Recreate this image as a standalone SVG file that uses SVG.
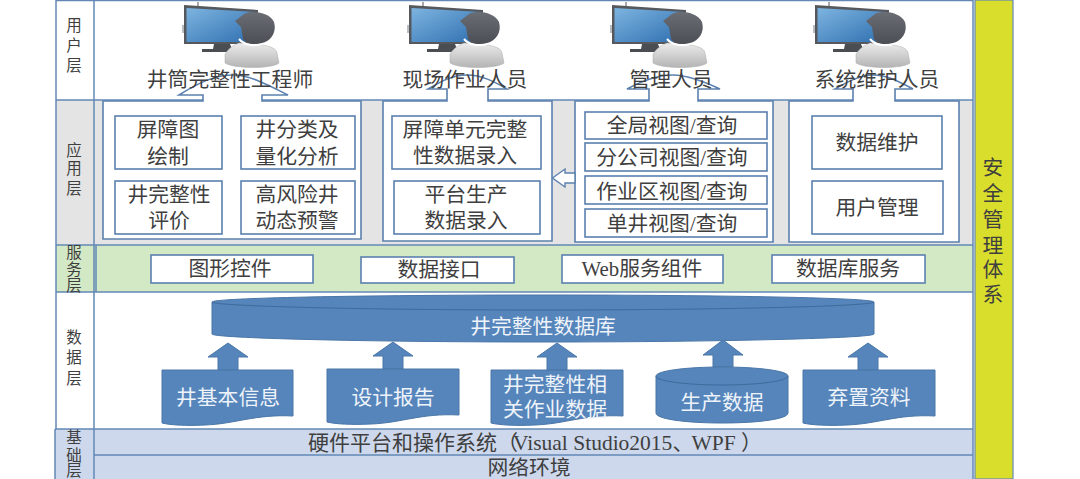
<svg xmlns="http://www.w3.org/2000/svg" width="1080" height="479" viewBox="0 0 1080 479">
<style>
text{font-family:"Liberation Serif","Noto Sans CJK SC",serif;fill:#3f3f3f;text-anchor:middle;font-size:20.8px}
.w{fill:#eef3fa}
.s{font-size:15.5px}
.box{fill:#fff;stroke:#5b80ae;stroke-width:1.6}
.band{stroke:#6388b5;stroke-width:1.5}
.blue{fill:#5585bb;stroke:#4a76a8;stroke-width:1}
.line{fill:none;stroke:#3f6a9c;stroke-width:1}
.call{fill:#fff;stroke:#5b80ae;stroke-width:1.6}
</style>
<defs>
<linearGradient id="scr" x1="0" y1="0" x2="1" y2="1"><stop offset="0" stop-color="#7db4e0"/><stop offset="1" stop-color="#2f6fb0"/></linearGradient>
<linearGradient id="head" x1="0" y1="0" x2="0" y2="1"><stop offset="0" stop-color="#6a6d73"/><stop offset="1" stop-color="#4b4e54"/></linearGradient>
<linearGradient id="body" x1="0" y1="0" x2="0" y2="1"><stop offset="0" stop-color="#ececec"/><stop offset="1" stop-color="#b4b4b4"/></linearGradient>
<symbol id="user" width="110" height="70" viewBox="0 0 110 70" overflow="visible">
<path d="M14 1V6" stroke="#555" stroke-width="1"/>
<path d="M-2 24h2v8h-2Z" fill="#b9bcc0"/>
<path d="M0 4L74 9V43L0 43Z" fill="#55585d"/>
<path d="M2.500 7L72 11V41L2.500 41Z" fill="url(#scr)"/>
<path d="M30 43H46L48 48H58V51H18V48H29Z" fill="#4a4d52"/>
<path d="M41 53C46 46 50 44 55 42L74 43C83 45 92 46 93 52L95 62C88 68 50 68 41 62Z" fill="url(#body)" stroke="#aaa" stroke-width=".5"/>
<path d="M55 38C60 44 70 46 80 42" fill="none" stroke="#fff" stroke-width="2"/>
<path d="M51 20L60 13C68 9 85 11 90 21C93 31 87 40 78 42C70 44 62 43 59 38L57 26Z" fill="url(#head)"/>
</symbol>
</defs>

<g id="layers">
<rect x="94" y="0" width="879" height="100" fill="#fff"/>
<rect x="56" y="100" width="917" height="145" fill="#e4e4e4"/>
<rect x="56" y="245" width="917" height="47" fill="#d3e8c5"/>
<rect x="56" y="292" width="917" height="137" fill="#fff"/>
<rect x="55" y="429" width="918" height="50" fill="#cdd8ec"/>
<rect x="975" y="0" width="38" height="479" fill="#d9de2c" stroke="#6388b5" stroke-width="1.2"/>
<path class="band" fill="none" d="M56 0.500H973M56 100H973M56 245H973M56 292H973M55 429H973M94 455H973M56 0V429M55 429V479M94 0V479M96 245V292M973 0V479"/>
<text class="s" x="74" y="31">用</text><text class="s" x="74" y="51">户</text><text class="s" x="74" y="71">层</text>
<text class="s" x="74" y="156">应</text><text class="s" x="74" y="174">用</text><text class="s" x="74" y="194">层</text>
<text class="s" x="74" y="258">服</text><text class="s" x="74" y="275">务</text><text class="s" x="74" y="291">层</text>
<text class="s" x="74" y="343">数</text><text class="s" x="74" y="363">据</text><text class="s" x="74" y="384">层</text>
<text class="s" x="74" y="443">基</text><text class="s" x="74" y="461">础</text><text class="s" x="74" y="476">层</text>
<text x="308" y="450" style="text-anchor:start;font-size:21px">硬件平台和操作系统（<tspan dx="-5" font-size="21.500">Visual Studio2015</tspan>、<tspan dx="-2" font-size="21.500">WPF </tspan>）</text>
<text x="529" y="475">网络环境</text>
</g>

<g id="security">
<text x="993" y="175">安</text><text x="993" y="201">全</text><text x="993" y="227">管</text><text x="993" y="253">理</text><text x="993" y="277">体</text><text x="993" y="302">系</text>
</g>

<g id="user-engineer">
<use href="#user" x="184" y="1"/>
<path class="call" d="M103 101H203V95H179C200 82 215 75 233 75C250 75 268 85 288 95H262V101H361V239H103Z"/>
<path d="M204 92H261V104H204Z" fill="#fff"/>
<text x="230" y="87">井筒完整性工程师</text>
<rect class="box" x="115" y="116" width="107" height="53"/><text x="168" y="137">屏障图</text><text x="168" y="164">绘制</text>
<rect class="box" x="241" y="116" width="114" height="53"/><text x="297" y="137">井分类及</text><text x="297" y="164">量化分析</text>
<rect class="box" x="115" y="181" width="107" height="53"/><text x="169" y="202">井完整性</text><text x="169" y="228">评价</text>
<rect class="box" x="241" y="181" width="114" height="53"/><text x="297" y="202">高风险井</text><text x="297" y="228">动态预警</text>
</g>

<g id="user-field">
<use href="#user" x="409" y="1"/>
<path class="call" d="M383 101H447V89H428C440 82 452 75 467 75C482 75 495 82 507 89H488V101H552V241H383Z"/>
<path d="M448 88H487V104H448Z" fill="#fff"/>
<text x="465" y="87">现场作业人员</text>
<rect class="box" x="392" y="116" width="149" height="53"/><text x="465" y="137">屏障单元完整</text><text x="465" y="163">性数据录入</text>
<rect class="box" x="394" y="181" width="146" height="53"/><text x="466" y="202">平台生产</text><text x="466" y="228">数据录入</text>
</g>

<g id="user-manager">
<use href="#user" x="612" y="1"/>
<path class="call" d="M575 101H649V89H627C640 82 658 75 673 75C688 75 705 82 720 89H698V101H773V242H575Z"/>
<path d="M650 88H697V104H650Z" fill="#fff"/>
<text x="671" y="87">管理人员</text>
<rect class="box" x="585" y="112" width="182" height="27"/><text x="672" y="133">全局视图/查询</text>
<rect class="box" x="585" y="143" width="182" height="28"/><text x="672" y="165">分公司视图/查询</text>
<rect class="box" x="585" y="176" width="182" height="28"/><text x="672" y="199">作业区视图/查询</text>
<rect class="box" x="585" y="209" width="182" height="28"/><text x="672" y="231">单井视图/查询</text>
</g>

<g id="user-maintainer">
<use href="#user" x="815" y="1"/>
<path class="call" d="M789 101H853V89H835C847 82 860 75 873 75C888 75 900 82 913 89H895V101H959V242H789Z"/>
<path d="M854 88H894V104H854Z" fill="#fff"/>
<text x="877" y="87">系统维护人员</text>
<rect class="box" x="812" y="116" width="130" height="53"/><text x="877" y="150">数据维护</text>
<rect class="box" x="812" y="181" width="131" height="53"/><text x="877" y="215">用户管理</text>
</g>

<g id="services">
<rect class="box" x="151" y="255" width="162" height="28"/><text x="230" y="276">图形控件</text>
<rect class="box" x="361" y="257" width="153" height="26"/><text x="439" y="277">数据接口</text>
<rect class="box" x="562" y="255" width="161" height="28"/><text x="642" y="276">Web服务组件</text>
<rect class="box" x="772" y="255" width="153" height="28"/><text x="848" y="276">数据库服务</text>
</g>

<g id="database">
<path class="blue" d="M212 302C212 298 360 295 543 295C726 295 874 298 874 302V334C874 338 726 342 543 342C360 342 212 338 212 334Z"/>
<path class="line" d="M212 302C212 306 360 310 543 310C726 310 874 306 874 302"/>
<text class="w" x="543" y="334">井完整性数据库</text>
</g>

<g id="connectors">
<path class="blue" d="M228 343L248 357H238V370H218V357H208Z"/>
<path class="blue" d="M393 342L413 356H403V369H383V356H373Z"/>
<path class="blue" d="M557 343L577 357H567V370H547V357H537Z"/>
<path class="blue" d="M723 340L743 355H733V367H713V355H703Z"/>
<path class="blue" d="M868 343L888 357H878V370H858V357H848Z"/>
<path d="M552.500 178L565 169V173H575V183H565V187Z" fill="#fff" stroke="#5b80ae" stroke-width="1.400"/>
</g>

<g id="source-basic">
<path class="blue" d="M162 370H293V416C255 414 235 424 205 425C185 426 170 425 162 423Z"/>
<text class="w" x="228" y="405">井基本信息</text>
</g>
<g id="source-design">
<path class="blue" d="M327 369H459V415C421 413 401 423 371 424C351 425 335 424 327 422Z"/>
<text class="w" x="393" y="405">设计报告</text>
</g>
<g id="source-ops">
<path class="blue" d="M491 370H623V416C585 414 565 424 535 425C515 426 499 425 491 423Z"/>
<text class="w" x="555" y="392">井完整性相</text>
<text class="w" x="555" y="417">关作业数据</text>
</g>
<g id="source-production">
<path class="blue" d="M656 376C656 371 685 367 722 367C759 367 788 371 788 376V413C788 419 759 423 722 423C685 423 656 419 656 413Z"/>
<path class="line" d="M656 376C656 381 685 385 722 385C759 385 788 381 788 376"/>
<text class="w" x="722" y="410">生产数据</text>
</g>
<g id="source-disposal">
<path class="blue" d="M803 370H935V416C897 414 877 424 847 425C827 426 811 425 803 423Z"/>
<text class="w" x="869" y="405">弃置资料</text>
</g>
</svg>
